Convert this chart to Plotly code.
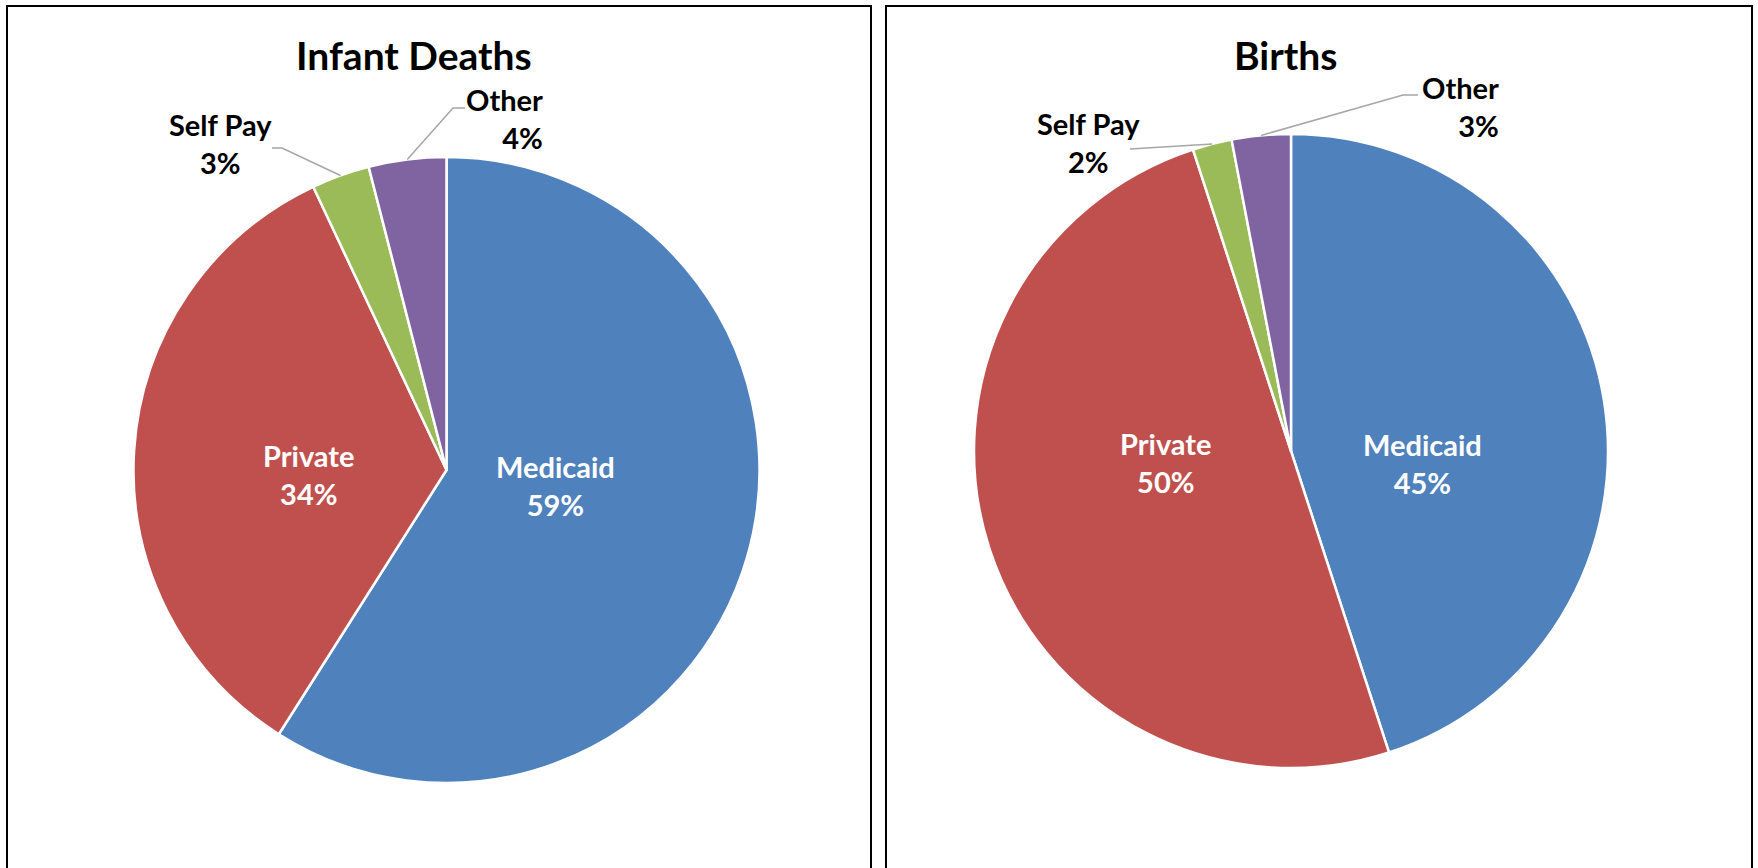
import math
import plotly.graph_objects as go

W, H = 1758, 868

categories = ["Medicaid", "Private", "Self Pay", "Other"]
infant_deaths = [59, 34, 3, 4]
births = [45, 50, 2, 3]
titles = ["Infant Deaths", "Births"]
colors = ["#4F81BD", "#C0504D", "#9BBB59", "#8064A2"]

FONT = "Lato"
LABEL_SIZE = 29
TITLE_SIZE = 39

def px(x):
    return x / W

def py(y):
    return 1 - y / H

# pie geometry in pixels: (cx, cy, r)
geom = [(446.5, 470, 313), (1291, 451, 317)]
title_pos = [(414, 55), (1285.5, 55)]
panels = [(7, 871), (886, 1752)]

# inside label offsets from pie centre (pixels)
inside = [
    {0: (108.5, 15), 1: (-137.5, 4)},
    {0: (131, 12.5), 1: (-125, 11.5)},
]

# outside label placement (pixels) and leader anchors
outside = [
    {2: dict(x=220, y=143.5, xanchor="center", align="center", pts=[(272, 148), (282, 148)]),
     3: dict(x=545, y=119, xanchor="right", align="right", pts=[(465, 108), (453, 108)])},
    {2: dict(x=1088, y=142, xanchor="center", align="center", pts=[(1130, 149)]),
     3: dict(x=1501, y=106.5, xanchor="right", align="right", pts=[(1418, 95), (1403, 95)])},
]

fig = go.Figure()
annotations = []
shapes = []

for i, vals in enumerate([infant_deaths, births]):
    cx, cy, r = geom[i]
    fig.add_trace(go.Pie(
        labels=categories,
        values=vals,
        sort=False,
        direction="clockwise",
        rotation=0,
        marker=dict(colors=colors, line=dict(color="white", width=2.5)),
        textinfo="none",
        domain=dict(x=[px(cx - r), px(cx + r)], y=[py(cy + r), py(cy - r)]),
        hoverinfo="label+percent",
        showlegend=False,
    ))
    annotations.append(dict(
        x=px(title_pos[i][0]), y=py(title_pos[i][1]), xref="paper", yref="paper",
        text=titles[i], showarrow=False, xanchor="center", yanchor="middle",
        font=dict(family=FONT, size=TITLE_SIZE, color="black", weight="bold"),
    ))
    total = sum(vals)
    cum = 0
    for j, v in enumerate(vals):
        a0 = cum / total * 360
        cum += v
        a1 = cum / total * 360
        pct = round(v / total * 100)
        text = f"{categories[j]}<br>{pct}%"
        if j in inside[i]:
            dx, dy = inside[i][j]
            annotations.append(dict(
                x=px(cx + dx), y=py(cy + dy), xref="paper", yref="paper",
                text=text, showarrow=False, xanchor="center", yanchor="middle",
                align="center",
                font=dict(family=FONT, size=LABEL_SIZE, color="white", weight="bold"),
            ))
        if j in outside[i]:
            o = outside[i][j]
            mid = math.radians((a0 + a1) / 2)
            ex = cx + r * math.sin(mid)
            ey = cy - r * math.cos(mid)
            annotations.append(dict(
                x=px(o["x"]), y=py(o["y"]), xref="paper", yref="paper",
                text=text, showarrow=False,
                xanchor=o["xanchor"], yanchor="middle", align=o["align"],
                font=dict(family=FONT, size=LABEL_SIZE, color="black", weight="bold"),
            ))
            pts = o["pts"] + [(ex, ey)]
            path = "M " + " L ".join(f"{px(x):.5f},{py(y):.5f}" for x, y in pts)
            shapes.append(dict(type="path", xref="paper", yref="paper", path=path,
                               line=dict(color="#A6A6A6", width=1.5)))
    x0, x1 = panels[i]
    shapes.append(dict(type="path", xref="paper", yref="paper",
                       path=f"M {px(x0)},{py(H + 20)} L {px(x0)},{py(6)} L {px(x1)},{py(6)} L {px(x1)},{py(H + 20)}",
                       line=dict(color="black", width=2)))

fig.update_layout(
    width=W, height=H,
    margin=dict(l=0, r=0, t=0, b=0),
    paper_bgcolor="white",
    plot_bgcolor="white",
    annotations=annotations,
    shapes=shapes,
)

fig.write_html(
    "out.html",
    config={"displayModeBar": False},
    post_script="document.body.style.margin='0';document.body.style.overflow='hidden';",
)
